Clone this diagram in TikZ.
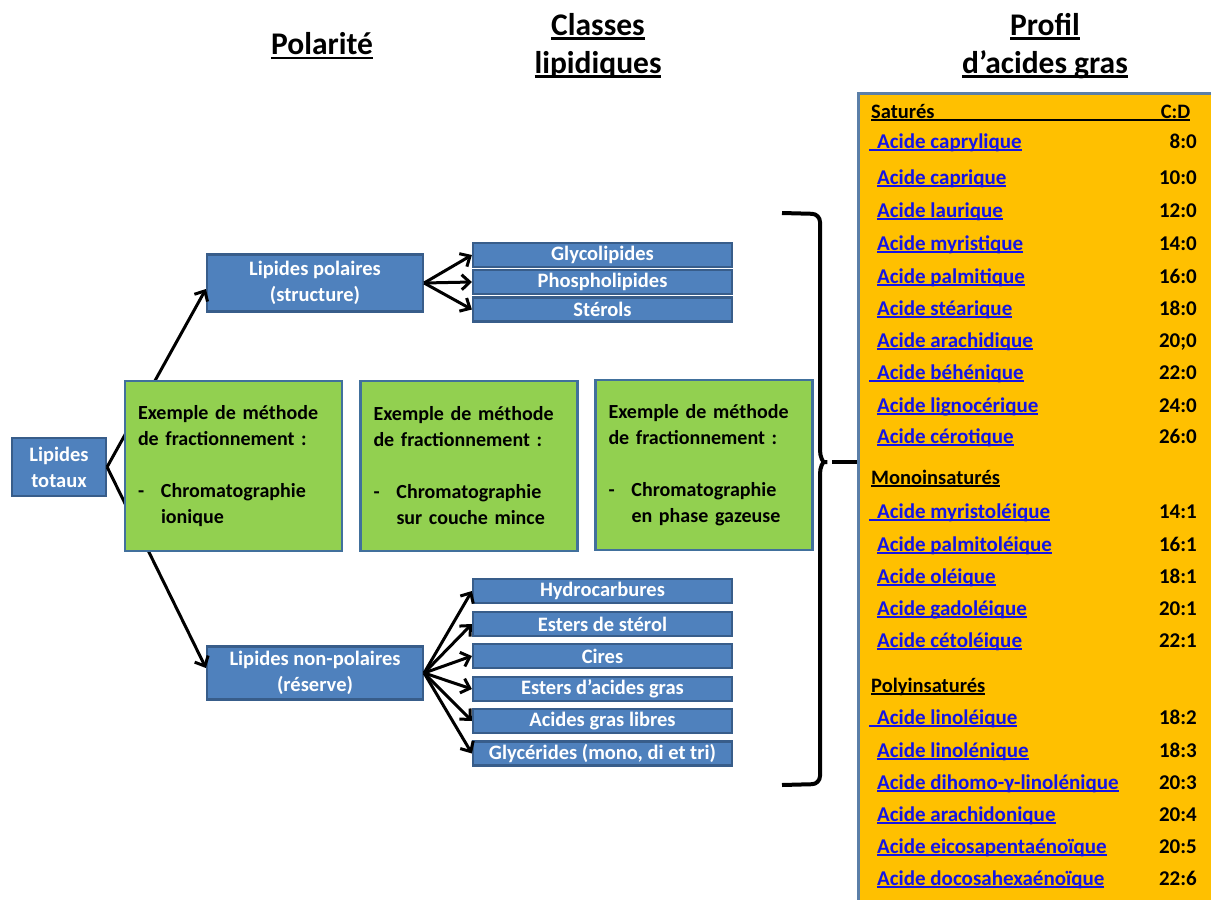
\documentclass[tikz,border=0pt]{standalone}
\usepackage{fontspec}
\setmainfont{Carlito}
\usetikzlibrary{arrows.meta,calc}

\definecolor{boxblue}{HTML}{4F81BD}
\definecolor{boxedge}{HTML}{385D8A}
\definecolor{boxgreen}{HTML}{92D050}
\definecolor{greenedge}{HTML}{41709C}
\definecolor{panelfill}{HTML}{FFC000}
\definecolor{paneledge}{HTML}{5B7FA8}
\definecolor{linkblue}{HTML}{1414E6}

% underline with adjustable thickness and offset: \ulx{thickness}{offset}{text}
\newcommand{\ulx}[3]{\leavevmode\setbox0=\hbox{#3}\rlap{\rule[-#2]{\wd0}{#1}}\box0}
\newcommand{\hd}[1]{\ulx{2.8pt}{4.5pt}{#1}}
\newcommand{\lk}[1]{\ulx{1.9pt}{3pt}{#1}}

% one row of the fatty acid list: name, y, label, C:D value
\newcommand{\fattyrow}[4]{%
  \node[acid] (#1) at (877,#2) {\lk{#3}};
  \node[cdval] (#1cd) at (1197,#2) {#4};}
\newcommand{\fattyrowsp}[4]{%
  \node[acid] (#1) at (869,#2) {\lk{\hspace{8pt}#3}};
  \node[cdval] (#1cd) at (1197,#2) {#4};}

\begin{document}
\begin{tikzpicture}[x=1pt,y=-1pt,
  bluebox/.style={fill=boxblue, draw=boxedge, line width=2.2pt, text=white,
    font=\bfseries\fontsize{20.5}{26}\selectfont, align=center, inner sep=0pt},
  classbox/.style={bluebox, minimum width=259pt, minimum height=24pt},
  greenbox/.style={fill=boxgreen, draw=greenedge, line width=2.2pt,
    minimum width=217pt, minimum height=170pt, text width=191pt, align=left,
    font=\bfseries\fontsize{20}{26}\selectfont, inner sep=0pt},
  header/.style={font=\bfseries\fontsize{31.5}{38}\selectfont, align=center, inner sep=0pt},
  acid/.style={anchor=mid west, inner sep=0pt, text=linkblue, yshift=-4pt,
    font=\bfseries\fontsize{21}{22}\selectfont},
  cdval/.style={anchor=mid east, inner sep=0pt, yshift=-4pt,
    font=\bfseries\fontsize{21}{22}\selectfont},
  group/.style={anchor=mid west, inner sep=0pt, yshift=-4pt,
    font=\bfseries\fontsize{20.5}{22}\selectfont},
  link/.style={line width=3pt, -{Straight Barb[length=8pt,width=15pt,line width=3pt]}},
  brace/.style={line width=4pt, rounded corners=8pt},
]
\useasboundingbox (0,0) rectangle (1211,900);

% column headings
\node[header] (hpol) at (322,46) {\hd{Polarité}};
\node[header] (hcls) at (598,46) {\hd{Classes}\\\hd{lipidiques}};
\node[header] (hpro) at (1045,46) {\hd{Profil}\\\hd{d’acides gras}};

% polarity boxes
\node[bluebox, minimum width=94pt, minimum height=58pt] (tot) at (59,467) {Lipides\\totaux};
\node[bluebox, minimum width=216pt, minimum height=57pt] (pol) at (315,283) {Lipides polaires\\(structure)};
\node[bluebox, minimum width=216pt, minimum height=53pt] (npol) at (315,673) {Lipides non-polaires\\(réserve)};

% lipid classes
\node[classbox] (c1) at (602.5,255) {Glycolipides};
\node[classbox] (c2) at (602.5,282) {Phospholipides};
\node[classbox] (c3) at (602.5,309.5) {Stérols};
\node[classbox] (d1) at (602.5,591) {Hydrocarbures};
\node[classbox] (d2) at (602.5,624) {Esters de stérol};
\node[classbox] (d3) at (602.5,656) {Cires};
\node[classbox] (d4) at (602.5,689) {Esters d’acides gras};
\node[classbox] (d5) at (602.5,721) {Acides gras libres};
\node[classbox] (d6) at (602.5,753.5) {Glycérides (mono, di et tri)};

% connectors
\draw[link] (tot.east) -- ([yshift=-6pt]pol.west);
\draw[link] (tot.east) -- ([yshift=5pt]npol.west);
\foreach \t in {c1,c2,c3} \draw[link] (pol.east) -- (\t.west);
\foreach \t in {d1,d2,d3,d4,d5,d6} \draw[link] (npol.east) -- (\t.west);

% fractionation methods
\node[greenbox] (m1) at (233.5,466) {Exemple de méthode\\de fractionnement :\\\mbox{}\\\makebox[23pt][l]{-}Chromatographie\\\hspace*{23pt}ionique};
\node[greenbox] (m2) at (469,466) {Exemple de méthode\\de fractionnement :\\\mbox{}\\\makebox[23pt][l]{-}Chromatographie\\\hspace*{23pt}sur couche mince};
\node[greenbox] (m3) at (704,465) {Exemple de méthode\\de fractionnement :\\\mbox{}\\\makebox[23pt][l]{-}Chromatographie\\\hspace*{23pt}en phase gazeuse};

% fatty acid panel
\node[draw=paneledge, fill=panelfill, line width=3pt, anchor=north west,
  minimum width=370pt, minimum height=830pt, inner sep=0pt] (panel) at (857,92) {};

% brace linking classes to the panel
\coordinate (btip) at (832,462);
\draw[brace] (782,213) -- (820,214) -- (820,442)
  .. controls (820,457) and (823,462) .. (btip)
  .. controls (823,462) and (820,467) .. (820,482) -- (820,784) -- (782,785);
\draw[line width=4pt] (btip) -- (panel.west |- btip);

\node[group] (gsat) at (871,112) {\ulx{1.9pt}{3pt}{\makebox[319pt][l]{Saturés\hfill C:D}}};
\fattyrowsp{a1}{142}{Acide caprylique}{8:0}
\fattyrow{a2}{178}{Acide caprique}{10:0}
\fattyrow{a3}{211}{Acide laurique}{12:0}
\fattyrow{a4}{244}{Acide myristique}{14:0}
\fattyrow{a5}{277}{Acide palmitique}{16:0}
\fattyrow{a6}{309}{Acide stéarique}{18:0}
\fattyrow{a7}{341}{Acide arachidique}{20;0}
\fattyrowsp{a8}{373}{Acide béhénique}{22:0}
\fattyrow{a9}{406}{Acide lignocérique}{24:0}
\fattyrow{a10}{437}{Acide cérotique}{26:0}

\node[group] (gmono) at (871,478) {\ulx{1.9pt}{3pt}{Monoinsaturés}};
\fattyrowsp{b1}{512}{Acide myristoléique}{14:1}
\fattyrow{b2}{545}{Acide palmitoléique}{16:1}
\fattyrow{b3}{577}{Acide oléique}{18:1}
\fattyrow{b4}{609}{Acide gadoléique}{20:1}
\fattyrow{b5}{641}{Acide cétoléique}{22:1}

\node[group] (gpoly) at (871,686) {\ulx{1.9pt}{3pt}{Polyinsaturés}};
\fattyrowsp{p1}{718}{Acide linoléique}{18:2}
\fattyrow{p2}{751}{Acide linolénique}{18:3}
\fattyrow{p3}{783}{Acide dihomo-γ-linolénique}{20:3}
\fattyrow{p4}{815}{Acide arachidonique}{20:4}
\fattyrow{p5}{847}{Acide eicosapentaénoïque}{20:5}
\fattyrow{p6}{879}{Acide docosahexaénoïque}{22:6}
\end{tikzpicture}
\end{document}
